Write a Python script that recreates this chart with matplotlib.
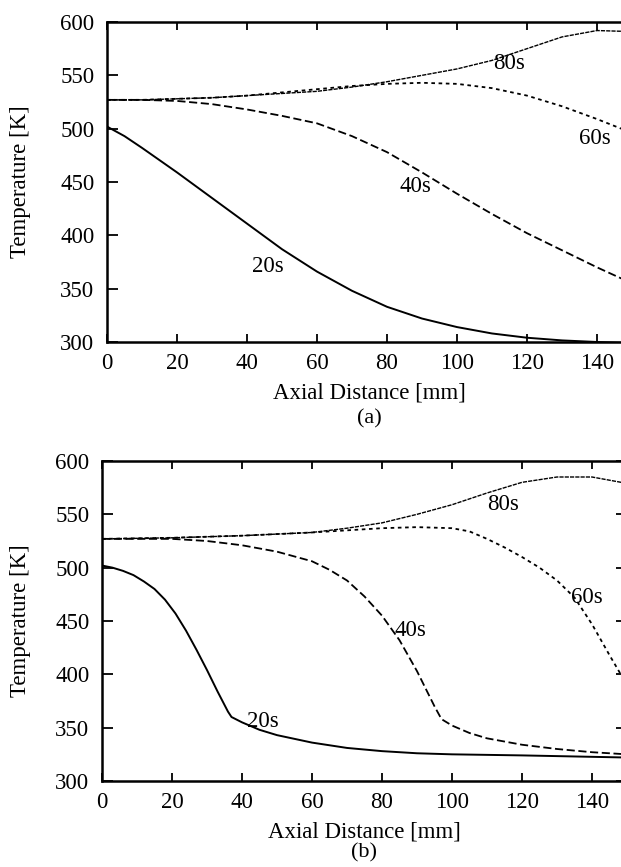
import numpy as np
import matplotlib
matplotlib.use("Agg")
import matplotlib.pyplot as plt

plt.rcParams["font.family"] = ["Liberation Serif", "DejaVu Serif"]

# ---- data (a): temperature profiles [K] vs axial distance [mm]
xa = [0, 5, 10, 20, 30, 40, 50, 60, 70, 80, 90, 100, 110, 120, 130, 140, 150]
a_20s = [502, 493, 482, 459, 435, 411, 387, 366, 348, 333, 322, 314, 308, 304, 301.5, 300, 299]
a_40s = [527, 527, 527, 526, 523, 518, 512, 505, 493, 478, 459, 439, 420, 402, 386, 370, 355]
a_60s = [527, 527, 527, 528, 529, 531, 534, 537, 540, 542, 543, 542, 538, 531, 521, 509, 496]
a_80s = [527, 527, 527, 528, 529, 531, 533, 535, 539, 544, 550, 556, 564, 575, 586, 592, 591]

# ---- data (b)
xb_20s = [0, 3, 6, 9, 12, 15, 18, 21, 24, 27, 30, 33, 36, 37, 40, 45, 50, 60, 70, 80, 90, 100, 120, 150]
b_20s = [502, 500, 497, 493, 487, 480, 470, 457, 441, 423, 404, 384, 365, 360, 355, 348, 343, 336, 331, 328, 326, 325, 324, 322]
xb_40s = [0, 10, 20, 30, 40, 50, 60, 65, 70, 75, 80, 85, 90, 95, 97, 100, 105, 110, 120, 130, 140, 150]
b_40s = [527, 527, 527, 525, 521, 515, 506, 498, 488, 473, 455, 432, 403, 370, 358, 352, 345, 340, 334, 330, 327, 325]
xb_60s = [0, 20, 40, 60, 70, 80, 90, 100, 105, 110, 115, 120, 125, 130, 135, 140, 145, 150]
b_60s = [527, 528, 530, 533, 535, 537, 538, 537, 534, 527, 519, 510, 500, 488, 472, 447, 418, 390]
xb_80s = [0, 20, 40, 60, 70, 80, 90, 100, 110, 120, 130, 140, 150]
b_80s = [527, 528, 530, 533, 537, 542, 550, 559, 570, 580, 585, 585, 579]

labels = ["20s", "40s", "60s", "80s"]
label_pos_a = [(46, 371), (88, 446), (139.5, 491), (115, 561)]
label_pos_b = [(46, 356), (88, 441), (138.5, 472), (114.5, 559)]

styles = {
    "20s": dict(ls="-", lw=1.4),
    "40s": dict(ls=(0, (4.5, 2)), lw=1.3),
    "60s": dict(ls=(0, (2, 2)), lw=1.3),
    "80s": dict(ls=(0, (3, 0.8)), lw=1.0),
}

W, H = 621, 867
fig = plt.figure(figsize=(W / 100, H / 100), dpi=100)


def px_box(left, right, top, bottom):
    return [left / W, 1 - bottom / H, (right - left) / W, (bottom - top) / H]


def style_axes(ax, left_px, tag, tag_y):
    ax.set_xlim(0, 150)
    ax.set_ylim(300, 600)
    ax.set_xticks(np.arange(0, 160, 20))
    ax.set_yticks(np.arange(300, 650, 50))
    for sp in ax.spines.values():
        sp.set_linewidth(1.8)
    ax.tick_params(direction="in", top=True, right=True, width=1.3,
                   labelsize=16.5, colors="black")
    ax.tick_params(axis="y", length=8, pad=9)
    ax.tick_params(axis="x", length=5.5, pad=8)
    ax.set_xlabel("Axial Distance [mm]", fontsize=16.5, va="center")
    ax.xaxis.set_label_coords(0.5, -0.16)
    ax.set_ylabel("Temperature [K]", fontsize=16.5, va="center")
    ax.yaxis.set_label_coords((21 - left_px) / 525, 0.5)
    ax.text(0.5, tag_y, tag, transform=ax.transAxes, ha="center",
            va="center", fontsize=16)


ax_a = fig.add_axes(px_box(107, 632, 22, 342))
for lab, y in zip(labels, [a_20s, a_40s, a_60s, a_80s]):
    ax_a.plot(xa, y, color="black", **styles[lab])
for lab, (x, y) in zip(labels, label_pos_a):
    ax_a.text(x, y, lab, fontsize=16.5, ha="center", va="center")
style_axes(ax_a, 107, "(a)", -0.24)

ax_b = fig.add_axes(px_box(102, 627, 461, 781))
for lab, xs, y in zip(labels, [xb_20s, xb_40s, xb_60s, xb_80s],
                      [b_20s, b_40s, b_60s, b_80s]):
    ax_b.plot(xs, y, color="black", **styles[lab])
for lab, (x, y) in zip(labels, label_pos_b):
    ax_b.text(x, y, lab, fontsize=16.5, ha="center", va="center")
style_axes(ax_b, 102, "(b)", -0.226)

fig.savefig("out.png", dpi=100)
